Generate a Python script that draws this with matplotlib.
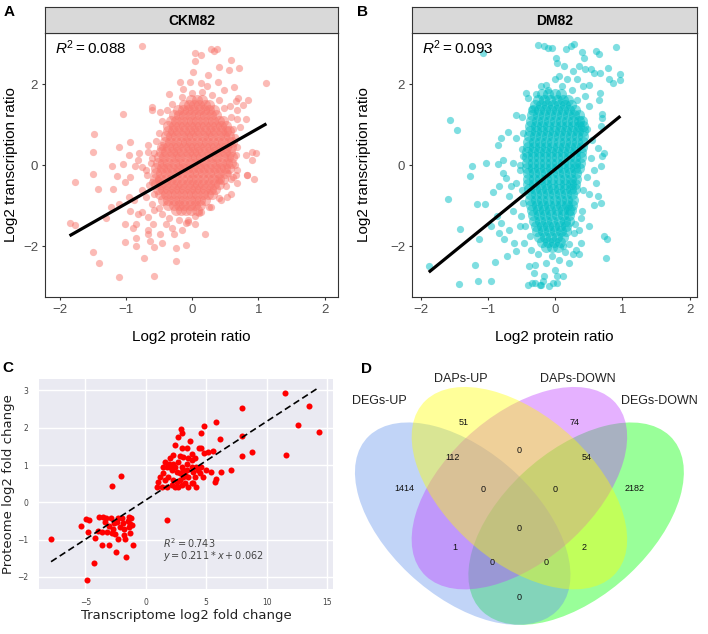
import numpy as np
import matplotlib
matplotlib.use('Agg')
import matplotlib.pyplot as plt
from matplotlib.patches import Ellipse

W, H = 708, 634

# ---------------- A / B : protein ratio vs transcription ratio ----------------
# dense centre of each cloud, one row per y value -> x values
ckm_core = {
    1.62: [-0.02, 0.07, 0.15],
    1.49: [-0.13, -0.05, 0.03, 0.11, 0.19, 0.26],
    1.36: [-0.22, -0.14, -0.06, 0.02, 0.1, 0.18, 0.26, 0.33],
    1.23: [-0.28, -0.2, -0.12, -0.04, 0.04, 0.12, 0.2, 0.28, 0.36],
    1.10: [-0.32, -0.24, -0.16, -0.08, 0.0, 0.08, 0.16, 0.24, 0.32, 0.4, 0.46],
    0.97: [-0.36, -0.28, -0.2, -0.12, -0.04, 0.04, 0.12, 0.2, 0.28, 0.36, 0.44, 0.51],
    0.84: [-0.37, -0.29, -0.21, -0.13, -0.05, 0.03, 0.11, 0.19, 0.27, 0.35, 0.43, 0.51, 0.56],
    0.71: [-0.4, -0.32, -0.24, -0.16, -0.08, 0.0, 0.08, 0.16, 0.24, 0.32, 0.4, 0.48, 0.56],
    0.58: [-0.41, -0.33, -0.25, -0.17, -0.09, -0.01, 0.07, 0.15, 0.23, 0.31, 0.39, 0.47, 0.55, 0.6],
    0.45: [-0.45, -0.37, -0.29, -0.21, -0.13, -0.05, 0.03, 0.11, 0.19, 0.27, 0.35, 0.43, 0.51, 0.58],
    0.32: [-0.47, -0.39, -0.31, -0.23, -0.15, -0.07, 0.01, 0.09, 0.17, 0.25, 0.33, 0.41, 0.49, 0.57],
    0.19: [-0.5, -0.42, -0.34, -0.26, -0.18, -0.1, -0.02, 0.06, 0.14, 0.22, 0.3, 0.38, 0.46, 0.54, 0.6],
    0.06: [-0.52, -0.44, -0.36, -0.28, -0.2, -0.12, -0.04, 0.04, 0.12, 0.2, 0.28, 0.36, 0.44, 0.52, 0.58],
    -0.07: [-0.54, -0.46, -0.38, -0.3, -0.22, -0.14, -0.06, 0.02, 0.1, 0.18, 0.26, 0.34, 0.42, 0.5, 0.56],
    -0.20: [-0.55, -0.47, -0.39, -0.31, -0.23, -0.15, -0.07, 0.01, 0.09, 0.17, 0.25, 0.33, 0.41, 0.49],
    -0.33: [-0.56, -0.48, -0.4, -0.32, -0.24, -0.16, -0.08, 0.0, 0.08, 0.16, 0.24, 0.32, 0.4, 0.47],
    -0.46: [-0.55, -0.47, -0.39, -0.31, -0.23, -0.15, -0.07, 0.01, 0.09, 0.17, 0.25, 0.33, 0.41],
    -0.59: [-0.52, -0.44, -0.36, -0.28, -0.2, -0.12, -0.04, 0.04, 0.12, 0.2, 0.28, 0.35],
    -0.72: [-0.48, -0.4, -0.32, -0.24, -0.16, -0.08, 0.0, 0.08, 0.16, 0.24, 0.3],
    -0.85: [-0.44, -0.36, -0.28, -0.2, -0.12, -0.04, 0.04, 0.12, 0.2],
    -0.98: [-0.36, -0.28, -0.2, -0.12, -0.04, 0.04, 0.12],
    -1.11: [-0.25, -0.17, -0.09, -0.01, 0.07],
}
# scattered points around the CKM82 centre
ckm_spread = [
    (-0.75, 2.95), (-1.04, 1.26), (-1.48, 0.78), (-1.5, 0.33), (-1.77, -0.41), (-1.49, -0.21),
    (-1.85, -1.42), (-1.76, -1.48), (-1.49, -2.13), (-1.4, -2.4), (-1.1, -2.76), (-0.58, -2.72),
    (-0.6, 1.36), (-0.61, 1.44), (-0.94, 0.58), (-1.1, 0.45), (-1.21, -0.01), (-1.05, 0.04),
    (-1.42, -0.59), (-1.2, -0.59), (-1.22, -1.03), (-1.11, -0.96), (-0.86, -0.02), (-0.8, 0.3),
    (-0.66, 0.33), (-0.75, -0.04), (-0.94, -1.13), (-0.95, -0.78), (-1.02, -1.9), (-0.84, -1.99),
    (-0.73, -2.29), (-0.57, -2.02), (-0.24, -2.37), (-0.82, -1.2), (-0.66, -1.69), (-0.64, -1.88),
    (-1.14, -0.26), (-1.01, -0.41), (-0.94, -0.29), (-0.81, 0.12), (-0.69, -0.12), (-0.76, -0.62),
    (-0.87, -0.86), (-0.76, -1.15), (-0.66, -1.28), (-0.61, -0.95), (-0.57, -0.7), (-0.51, -0.37),
    (-0.61, -0.42), (-0.84, -1.44), (-0.67, -1.6), (-0.59, -1.44), (-0.49, -1.69), (-0.46, -1.93),
    (-0.85, -1.79), (-1.01, -1.44), (-0.96, 0.25), (-0.66, 0.49), (-0.46, 0.45), (-0.61, 0.17),
    (-0.24, -2.03), (-0.09, -1.98), (-0.27, -1.69), (-0.06, -1.4), (0.11, -1.19), (0.28, -1.03),
    (0.19, -1.7), (0.41, -0.37), (0.54, -0.2), (0.68, -0.12), (0.83, -0.25), (0.96, 0.29),
    (0.91, 0.33), (0.81, 0.25), (0.93, -0.35), (0.9, 0.12), (0.82, -0.23), (0.81, 1.15),
    (0.76, 1.48), (0.84, 1.6), (0.69, 1.65), (0.63, 1.93), (0.71, 2.39), (0.58, 2.59), (0.55, 2.35),
    (0.41, 2.43), (0.33, 2.82), (0.28, 2.87), (0.37, 2.86), (0.13, 2.72), (0.05, 2.76), (0.05, 2.58),
    (0.24, 2.22), (0.39, 2.06), (0.13, 2.02), (-0.19, 2.06), (-0.14, 1.89), (-0.04, 2.06),
    (1.12, 2.03), (0.66, 1.59), (0.68, 1.36), (0.57, 1.46), (0.68, 1.13), (0.72, 0.95),
    (0.66, 0.25), (0.66, -0.25), (0.58, -0.33), (0.68, -0.44), (0.51, -0.52), (0.58, -0.72),
    (0.53, -0.78), (0.43, -0.86), (0.26, -1.03), (0.13, -1.15), (0.04, -1.44), (-0.06, -1.36),
    (-0.09, -1.42), (-0.4, -1.45), (-0.35, -1.3), (-0.5, -1.05), (-0.45, -1.2), (-0.2, -1.35),
    (0.05, -1.25), (0.4, -0.8), (0.62, -0.3), (0.65, 0.0), (0.68, 0.45), (0.65, 0.7), (0.62, 0.9),
    (0.58, 1.2), (0.48, 1.42), (0.4, 1.6), (0.3, 1.72), (0.15, 1.8), (0.0, 1.78), (-0.15, 1.68),
    (-0.3, 1.52), (-0.38, 1.35), (-0.45, 1.1), (-0.5, 0.8), (-0.55, 0.6), (-0.58, 0.3), (-0.62, 0.05),
    (-0.68, -0.25), (-0.65, -0.5), (-0.7, -0.78), (-0.58, -1.1), (-0.3, -1.55), (-0.15, -1.6),
    (0.22, 1.95), (0.48, 1.85), (0.02, 2.3), (-0.35, 1.75), (-0.48, 1.3), (-0.9, -1.55), (-1.3, -1.3),
]
ckm_fit = (0.93, -0.02)      # slope, intercept
ckm_r2 = 0.088

dm_core = {
    1.75: [-0.19, -0.1, -0.01, 0.08],
    1.62: [-0.25, -0.16, -0.07, 0.02, 0.11, 0.19],
    1.49: [-0.3, -0.21, -0.12, -0.03, 0.06, 0.15, 0.24],
    1.36: [-0.33, -0.24, -0.15, -0.06, 0.03, 0.12, 0.21, 0.3],
    1.23: [-0.35, -0.26, -0.17, -0.08, 0.01, 0.1, 0.19, 0.28, 0.36],
    1.10: [-0.36, -0.27, -0.18, -0.09, 0.0, 0.09, 0.18, 0.27, 0.36, 0.4],
    0.97: [-0.37, -0.28, -0.19, -0.1, -0.01, 0.08, 0.17, 0.26, 0.35, 0.42],
    0.84: [-0.38, -0.29, -0.2, -0.11, -0.02, 0.07, 0.16, 0.25, 0.34, 0.42],
    0.71: [-0.39, -0.3, -0.21, -0.12, -0.03, 0.06, 0.15, 0.24, 0.33, 0.41],
    0.58: [-0.4, -0.31, -0.22, -0.13, -0.04, 0.05, 0.14, 0.23, 0.32, 0.41],
    0.45: [-0.41, -0.32, -0.23, -0.14, -0.05, 0.04, 0.13, 0.22, 0.31, 0.4],
    0.32: [-0.42, -0.33, -0.24, -0.15, -0.06, 0.03, 0.12, 0.21, 0.3, 0.39],
    0.19: [-0.42, -0.33, -0.24, -0.15, -0.06, 0.03, 0.12, 0.21, 0.3, 0.38],
    0.06: [-0.42, -0.33, -0.24, -0.15, -0.06, 0.03, 0.12, 0.21, 0.3, 0.37],
    -0.07: [-0.42, -0.33, -0.24, -0.15, -0.06, 0.03, 0.12, 0.21, 0.3, 0.36],
    -0.20: [-0.41, -0.32, -0.23, -0.14, -0.05, 0.04, 0.13, 0.22, 0.31],
    -0.33: [-0.4, -0.31, -0.22, -0.13, -0.04, 0.05, 0.14, 0.23, 0.31],
    -0.46: [-0.4, -0.31, -0.22, -0.13, -0.04, 0.05, 0.14, 0.23, 0.3],
    -0.59: [-0.39, -0.3, -0.21, -0.12, -0.03, 0.06, 0.15, 0.24, 0.29],
    -0.72: [-0.38, -0.29, -0.2, -0.11, -0.02, 0.07, 0.16, 0.25],
    -0.85: [-0.37, -0.28, -0.19, -0.1, -0.01, 0.08, 0.17, 0.26],
    -0.98: [-0.36, -0.27, -0.18, -0.09, 0.0, 0.09, 0.18, 0.25],
    -1.11: [-0.34, -0.25, -0.16, -0.07, 0.02, 0.11, 0.2, 0.24],
    -1.24: [-0.33, -0.24, -0.15, -0.06, 0.03, 0.12, 0.21],
    -1.37: [-0.31, -0.22, -0.13, -0.04, 0.05, 0.14, 0.2],
    -1.50: [-0.29, -0.2, -0.11, -0.02, 0.07, 0.16],
    -1.63: [-0.27, -0.18, -0.09, 0.0, 0.09, 0.16],
    -1.76: [-0.24, -0.15, -0.06, 0.03, 0.11],
    -1.89: [-0.2, -0.11, -0.02, 0.07],
    -2.02: [-0.14, -0.05, 0.04],
}
dm_spread = [
    (-0.26, 2.96), (-1.08, 2.76), (-1.56, 1.11), (-1.46, 0.88), (-0.58, 1.23), (-0.7, 0.83),
    (-0.8, 0.68), (-0.85, 0.51), (-0.59, 0.68), (-1.03, 0.06), (-1.23, -0.02), (-1.27, -0.27),
    (-1.6, -0.83), (-1.16, -0.95), (-1.05, -0.95), (-1.41, -1.57), (-1.13, -1.82), (-1.88, -2.48),
    (-1.43, -2.92), (-1.15, -2.86), (-0.95, -2.86), (-1.2, -2.45), (-0.89, -2.39), (-0.93, -0.66),
    (-0.83, -0.52), (-0.77, -0.19), (-0.73, -0.31), (-0.66, -0.52), (-0.87, -1.26), (-0.95, -1.51),
    (-0.8, -1.42), (-0.83, -1.67), (-0.76, -1.83), (-0.68, -1.59), (-0.61, -1.92), (-0.71, -2.25),
    (-0.58, -2.12), (-0.53, -1.51), (-0.46, -1.92), (-0.41, 1.66), (-0.44, 1.79), (-0.34, 1.38),
    (-0.29, 1.75), (-0.39, -2.49), (-0.31, -2.66), (-0.34, -2.9), (-0.21, -2.95), (-0.16, -2.74),
    (-0.63, 0.06), (-0.53, -0.11), (-0.48, 0.22), (-0.58, -0.43), (-0.68, -0.77), (-0.48, -0.93),
    (-0.51, -1.26), (-0.63, -1.14), (-0.85, 0.02), (-0.78, 0.14),
    (0.91, 2.92), (0.97, 2.24), (0.97, 2.11), (0.86, 2.03), (0.78, 2.4), (0.8, 2.12), (0.67, 1.79),
    (0.65, 1.62), (0.7, 1.27), (0.6, 2.81), (0.65, 2.73), (0.67, 2.28), (0.58, 2.28), (0.53, 2.38),
    (0.5, 1.99), (0.4, 2.78), (0.43, 2.65), (0.28, 2.98), (0.23, 2.94), (0.16, 2.86), (0.01, 2.65),
    (0.03, 2.53), (-0.04, 2.9), (-0.11, 2.9), (-0.16, 2.94), (0.36, 2.45), (0.45, 2.36), (0.26, 2.32),
    (0.13, 2.45), (0.06, 2.2), (0.18, 2.12), (0.33, 2.12), (0.41, 1.95), (-0.01, 2.12), (-0.14, 1.99),
    (-0.21, 1.95), (0.7, 1.17), (0.68, 0.96), (0.73, 0.31), (0.7, 0.22), (0.63, 0.43), (0.55, 0.63),
    (0.68, -0.02), (0.58, -0.11), (0.53, 0.18), (0.6, -0.43), (0.63, -0.77), (0.68, -0.93),
    (0.58, -0.97), (0.5, -0.72), (0.4, -1.14), (0.5, -1.51), (0.73, -1.75), (0.77, -1.83),
    (0.75, -2.29), (0.36, -1.59), (0.28, -1.67), (0.38, -1.92), (0.31, -2.08), (0.26, -2.2),
    (0.36, -2.2), (0.06, -2.33), (-0.01, -2.58), (0.11, -2.74), (0.03, -2.9), (-0.09, -2.99),
    (-0.4, -2.95), (-0.3, -2.9), (-0.23, -2.95), (-0.18, -2.86), (-0.03, -2.9), (0.02, -2.74),
    (-0.14, -2.41), (-0.04, -2.25), (0.15, -2.15), (0.2, -2.4), (-0.25, -2.2), (-0.3, -2.45),
    (0.45, 1.7), (0.5, 1.45), (0.48, 0.9), (0.47, -0.3), (0.42, -0.6), (0.38, -1.3), (0.3, -1.45),
    (-0.5, 1.2), (-0.48, 0.8), (-0.5, 0.4), (-0.52, 0.0), (-0.5, -0.6), (-0.45, -1.5), (-0.38, -1.75),
    (0.25, 1.85), (0.1, 1.95), (-0.1, 1.85), (0.32, 1.6), (-0.36, -2.1), (0.2, -1.95), (0.12, -2.0),
]
dm_fit = (1.35, -0.10)
dm_r2 = 0.093

# ---------------- C : transcriptome vs proteome fold change ----------------
fc_points = [
    # down-regulated group
    (-7.83, -0.98), (-4.83, -2.08), (-4.25, -1.62), (-2.43, -1.34), (-1.63, -1.47), (-1.07, -1.14),
    (-3.61, -1.15), (-3.06, -1.13), (-5.37, -0.64), (-4.96, -0.45), (-4.69, -0.47), (-4.79, -0.79),
    (-4.17, -0.96), (-3.97, -0.77), (-3.83, -0.4), (-3.55, -0.4), (-3.28, -0.43), (-3.36, -0.52),
    (-2.87, -0.43), (-3.03, -0.64), (-2.68, -0.7), (-2.4, -0.52), (-2.3, -0.43), (-2.0, -0.42),
    (-1.4, -0.4), (-1.2, -0.43), (-2.12, -0.65), (-1.77, -0.72), (-1.3, -0.59), (-2.54, -0.86),
    (-2.26, -0.97), (-1.77, -0.87), (-1.72, -0.97), (-2.81, -0.83), (-3.22, -0.79), (-2.76, 0.45),
    (-2.02, 0.71), (1.79, -0.47), (-1.29, -0.83), (-1.42, -0.67), (-3.62, -0.79), (-1.5, -0.5),
    (-2.6, -0.55), (-1.9, -0.55), (-1.15, -0.6),
    # up-regulated group
    (0.9, 0.42), (0.99, 0.55), (1.18, 0.69), (1.45, 0.78), (1.32, 0.42), (1.73, 0.42), (1.59, 0.6),
    (1.86, 0.69), (2.0, 0.96), (2.14, 0.87), (2.27, 0.6), (2.41, 0.42), (2.68, 0.42), (2.96, 0.46),
    (3.23, 0.51), (3.51, 0.42), (3.78, 0.51), (4.19, 0.42), (1.73, 0.96), (1.92, 1.04), (2.27, 1.04),
    (2.41, 0.96), (2.55, 0.82), (2.82, 0.78), (3.1, 0.69), (3.37, 0.87), (2.96, 0.96), (2.68, 1.09),
    (2.82, 1.24), (3.04, 1.21), (2.96, 1.45), (2.41, 1.54), (2.68, 1.76), (3.01, 1.87), (2.93, 1.96),
    (3.37, 1.45), (3.64, 1.65), (3.51, 1.18), (3.78, 1.13), (4.05, 1.18), (4.19, 0.96), (4.33, 0.88),
    (3.92, 0.82), (4.47, 0.78), (4.6, 0.96), (4.74, 0.69), (5.01, 0.87), (4.79, 1.33), (4.6, 1.45),
    (4.41, 1.45), (5.15, 1.36), (4.79, 2.06), (4.6, 1.87), (5.81, 2.16), (6.11, 1.69), (5.42, 0.82),
    (5.7, 0.55), (5.84, 0.64), (6.19, 0.82), (7.01, 0.86), (3.92, 0.51), (3.51, 0.69), (3.23, 0.73),
    (1.45, 0.96), (1.59, 1.09), (2.27, 1.27), (2.0, 1.18), (3.78, 0.96), (4.05, 0.69), (2.55, 0.55),
    (2.14, 0.46), (2.82, 0.6), (3.1, 0.87), (3.37, 1.04), (3.78, 1.31), (5.59, 1.38),
    (7.97, 2.52), (11.5, 2.94), (13.5, 2.59), (12.57, 2.07), (14.35, 1.89), (11.55, 1.28),
    (7.92, 1.79), (7.95, 1.24), (8.75, 1.35),
]
fc_fit = (0.211, 0.062)
fc_r2 = 0.743

# ---------------- D : Venn counts ----------------
set_names = ['DEGs-UP', 'DAPs-UP', 'DAPs-DOWN', 'DEGs-DOWN']
set_colours = ['cornflowerblue', 'yellow', '#BF3EFF', '#00FF00']
region_keys = ['A', 'B', 'C', 'D', 'AB', 'BC', 'CD', 'ABC', 'BCD', 'ABCD',
               'AC', 'BD', 'ACD', 'ABD', 'AD']
region_counts = [1414, 51, 74, 2182, 112, 0, 54, 0, 0, 0, 1, 2, 0, 0, 0]

plt.rcParams['font.family'] = ['Liberation Sans', 'DejaVu Sans']
plt.rcParams['mathtext.fontset'] = 'custom'
plt.rcParams['mathtext.rm'] = 'Liberation Sans'
plt.rcParams['mathtext.it'] = 'Liberation Sans:italic'

fig = plt.figure(figsize=(W / 100, H / 100), dpi=100)


def px_rect(left, top, right, bottom):
    return [left / W, 1 - bottom / H, (right - left) / W, (bottom - top) / H]


def ratio_panel(box, title, core, spread, fit, r2, colour, xlim, ylab_x):
    '''
    One ggplot-like faceted scatter with its grey strip on top.
    '''
    left, top, right, bottom = box
    ax = fig.add_axes(px_rect(left, top, right, bottom))
    core_x = [x for y, row in core.items() for x in row]
    core_y = [y for y, row in core.items() for x in row]
    sp_x = [p[0] for p in spread]
    sp_y = [p[1] for p in spread]
    # the centre is thousands of stacked points, drawn fatter so it reads solid
    ax.scatter(core_x, core_y, s=64, color=colour, alpha=0.5, linewidths=0, zorder=2)
    ax.scatter(sp_x, sp_y, s=27, color=colour, alpha=0.5, linewidths=0, zorder=2)
    x0, x1 = min(core_x + sp_x), max(core_x + sp_x)
    ax.plot([x0, x1], [fit[0] * x0 + fit[1], fit[0] * x1 + fit[1]],
            color='black', lw=2.3, zorder=3, solid_capstyle='butt')
    ax.set_xlim(*xlim)
    ax.set_ylim(-3.25, 3.26)
    ax.set_xticks([-2, -1, 0, 1, 2])
    ax.set_yticks([-2, 0, 2])
    for s in ax.spines.values():
        s.set_color('#333333')
        s.set_linewidth(0.8)
    ax.tick_params(length=2.5, width=0.8, color='#333333', labelcolor='#4D4D4D',
                   labelsize=9.5, pad=2.5)
    ax.set_xlabel('Log2 protein ratio', fontsize=11)
    ax.set_ylabel('Log2 transcription ratio', fontsize=11)
    ax.xaxis.set_label_coords(0.5, -0.125)
    ax.yaxis.set_label_coords(ylab_x, 0.5)
    ax.text(0.034, 0.944, '$R^2 = %.3f$' % r2, transform=ax.transAxes,
            fontsize=11, ha='left', va='center')
    strip = fig.add_axes(px_rect(left, 7, right, top))
    strip.set_facecolor('#D9D9D9')
    strip.set_xticks([])
    strip.set_yticks([])
    for s in strip.spines.values():
        s.set_color('#333333')
        s.set_linewidth(0.8)
    strip.text(0.5, 0.48, title, ha='center', va='center', fontsize=10,
               fontweight='bold', transform=strip.transAxes)
    return ax


ratio_panel((45, 33, 338, 297), 'CKM82', ckm_core, ckm_spread, ckm_fit, ckm_r2,
            '#F8766D', (-2.22, 2.2), -0.092)
ratio_panel((412, 33, 697, 297), 'DM82', dm_core, dm_spread, dm_fit, dm_r2,
            '#00BFC4', (-2.13, 2.11), -0.145)

# ---- panel C (seaborn darkgrid look)
axc = fig.add_axes(px_rect(39.3, 379.3, 333.3, 589.3))
axc.set_facecolor('#EAEAF2')
for s in axc.spines.values():
    s.set_visible(False)
axc.grid(True, color='white', lw=1.0)
axc.set_axisbelow(True)
cx = [p[0] for p in fc_points]
cy = [p[1] for p in fc_points]
axc.scatter(cx, cy, s=19, color='red', linewidths=0, zorder=3)
lx = np.array([min(cx), max(cx)])
axc.plot(lx, fc_fit[0] * lx + fc_fit[1], color='black', lw=1.2,
         linestyle=(0, (4, 2.2)), zorder=4)
axc.set_xlim(-8.8, 15.5)
axc.set_ylim(-2.33, 3.3)
axc.set_xticks([-5, 0, 5, 10, 15])
axc.set_yticks([-2, -1, 0, 1, 2, 3])
axc.tick_params(length=0, labelsize=5.5, labelcolor='#444444')
axc.tick_params(axis='x', pad=6)
axc.tick_params(axis='y', pad=8)
for lab in axc.get_xticklabels() + axc.get_yticklabels():
    lab.set_fontfamily('DejaVu Sans')
axc.set_xlabel('Transcriptome log2 fold change', fontsize=9.5, family='DejaVu Sans',
               color='#222222')
axc.set_ylabel('Proteome log2 fold change', fontsize=9.5, family='DejaVu Sans',
               color='#222222')
axc.xaxis.set_label_coords(0.5, -0.095)
axc.yaxis.set_label_coords(-0.081, 0.5)
axc.text(1.45, -1.09, '$R^2 = %.3f$' % fc_r2, fontsize=7, color='#444444',
         va='center', math_fontfamily='dejavusans')
axc.text(1.45, -1.45, '$y = %.3f * x + %.3f$' % fc_fit, fontsize=7, color='#444444',
         va='center', math_fontfamily='dejavusans')

# ---- panel D (4 set venn, VennDiagram unit-square layout, stretched a little wider
# than tall like the reference image)
axd = fig.add_axes(px_rect(340, 365, 708, 634))
axd.set_xlim(0.0254, 0.9989)
axd.set_ylim(0.1592, 0.9169)
axd.axis('off')
ell_centres = [(0.35, 0.47), (0.5, 0.57), (0.5, 0.57), (0.65, 0.47)]
ell_angles = [-45, -45, 45, 45]
draw_order = [3, 0, 2, 1]
for z, i in enumerate(draw_order):
    axd.add_patch(Ellipse(ell_centres[i], 0.7, 0.4, angle=ell_angles[i],
                          facecolor=set_colours[i], alpha=0.4, lw=0, zorder=z))
name_pos = [(0.129, 0.8155), (0.345, 0.8775), (0.655, 0.8775), (0.871, 0.8155)]
for name, (x, y) in zip(set_names, name_pos):
    axd.text(x, y, name, ha='center', va='center', fontsize=9, color='#222222', zorder=10)
region_pos = {'A': (0.195, 0.568), 'B': (0.353, 0.756), 'C': (0.647, 0.756),
              'D': (0.805, 0.568), 'AB': (0.322, 0.655), 'BC': (0.5, 0.677),
              'CD': (0.678, 0.655), 'ABC': (0.405, 0.565), 'BCD': (0.595, 0.565),
              'ABCD': (0.5, 0.455), 'AC': (0.328, 0.404), 'BD': (0.672, 0.404),
              'ACD': (0.428, 0.362), 'ABD': (0.572, 0.362), 'AD': (0.5, 0.263)}
for key, n in zip(region_keys, region_counts):
    x, y = region_pos[key]
    axd.text(x, y, str(n), ha='center', va='center', fontsize=6.5, color='#111111', zorder=10)

# panel letters
for letter, (x, y) in zip('ABCD', [(9, 12), (362, 12), (8, 368), (367, 369)]):
    fig.text(x / W, 1 - y / H, letter, ha='center', va='center', fontsize=11,
             fontweight='bold')

fig.savefig('out.png', dpi=100)
plt.close()
